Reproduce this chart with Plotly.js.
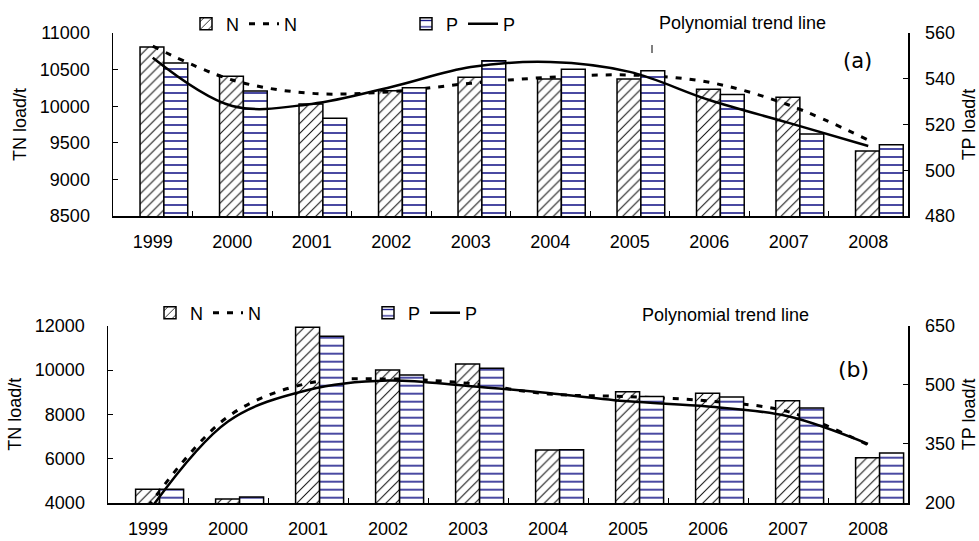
<!DOCTYPE html>
<html>
<head>
<meta charset="utf-8">
<script src="https://cdn.plot.ly/plotly-3.0.1.min.js"></script>
<style>html,body{margin:0;padding:0;background:#fff;}#chart{width:979px;height:541px;}</style>
</head>
<body>
<div id="chart"></div>
<script>
// ---- data ----
const years = ['1999','2000','2001','2002','2003','2004','2005','2006','2007','2008'];
// panel (a)
const tnA = [10810, 10410, 10030, 10210, 10395, 10372, 10372, 10231, 10122, 9388];
const tpA = [546.9, 534.6, 522.7, 536.1, 547.9, 544.1, 543.5, 533.1, 515.9, 511.2];
const tnTrendA = [10820, 10358, 10176, 10198, 10313, 10395, 10426, 10326, 10016, 9538];
const tpTrendA = [549.2, 528.1, 529.0, 536.4, 545.1, 547.3, 543.0, 530.7, 520.7, 510.6];
// panel (b)
const tnB = [4622, 4184, 11928, 10002, 10273, 6394, 9023, 8951, 8617, 6047];
const tpB = [235, 215, 623, 525, 542, 335, 470, 469, 441, 327];
const tnTrendB = [3837, 7896, 9402, 9596, 9402, 8920, 8798, 8604, 8121, 6620];
const tpTrendB = [176, 407, 487, 511, 497, 479, 458, 445, 420, 350];

// ---- layout helpers (pixel -> paper) ----
const W = 979, H = 541, ML = 100, MR = 71, MT = 20, MB = 38;
const PW = W - ML - MR, PH = H - MT - MB;
const px = x => (x - ML) / PW;
const py = y => (H - MB - y) / PH;

const FONT = 'Liberation Sans, Arial, sans-serif';
const nPattern = {shape: '/', fgcolor: '#111', bgcolor: 'white', size: 7, solidity: 0.15};
const pPattern = {shape: '-', fgcolor: '#1c1c8a', bgcolor: 'white', size: 8, solidity: 0.2};
const barLine = {color: 'black', width: 1.5};

function bar(y, yaxis, xaxis, name, offset, pattern, legend) {
  return {type: 'bar', x: years, y: y, xaxis: xaxis, yaxis: yaxis, name: name,
    offset: offset, width: 0.3, legend: legend, hoverinfo: 'skip',
    marker: {color: 'white', line: barLine, pattern: pattern}};
}
function trend(y, yaxis, xaxis, name, dashed, legend) {
  return {type: 'scatter', mode: 'lines', x: years, y: y, xaxis: xaxis, yaxis: yaxis,
    name: name, legend: legend, hoverinfo: 'skip',
    line: dashed ? {color: 'black', width: 3, dash: '6px,8px', shape: 'spline'}
                 : {color: 'black', width: 2.5, shape: 'spline'}};
}

const data = [
  bar(tnA, 'y', 'x', 'N', -0.16, nPattern, 'legend'),
  bar(tpA, 'y2', 'x', 'P', 0.14, pPattern, 'legend2'),
  bar(tnB, 'y3', 'x2', 'N', -0.155, nPattern, 'legend3'),
  bar(tpB, 'y4', 'x2', 'P', 0.145, pPattern, 'legend4'),
  trend(tnTrendA, 'y', 'x', 'N', true, 'legend'),
  trend(tpTrendA, 'y2', 'x', 'P', false, 'legend2'),
  trend(tnTrendB, 'y3', 'x2', 'N', true, 'legend3'),
  trend(tpTrendB, 'y4', 'x2', 'P', false, 'legend4')
];

const tickFont = {family: FONT, size: 18, color: 'black'};
const xCommon = {type: 'category', tickson: 'boundaries', ticks: 'inside', ticklen: 5,
  tickcolor: 'black', showline: true, linecolor: 'black', linewidth: 1.5, showgrid: false,
  tickfont: tickFont, ticklabelstandoff: 9, fixedrange: true};
const yCommon = {ticks: 'inside', ticklen: 5, tickcolor: 'black', showline: true,
  linecolor: 'black', linewidth: 1.5, showgrid: false, zeroline: false,
  tickfont: tickFont, tickformat: 'd', fixedrange: true};
const titleFont = {family: FONT, size: 18, color: 'black'};

function leg(x, y) {
  return {orientation: 'h', x: px(x), y: py(y), xanchor: 'left', yanchor: 'middle',
    font: {family: FONT, size: 18, color: 'black'}, bgcolor: 'rgba(0,0,0,0)',
    itemwidth: 30, tracegroupgap: 0, traceorder: 'normal'};
}
function note(text, x, y, font) {
  return {text: text, xref: 'paper', yref: 'paper', x: px(x), y: py(y),
    xanchor: 'center', yanchor: 'middle', showarrow: false, font: font};
}

const layout = {
  width: W, height: H,
  margin: {l: ML, r: MR, t: MT, b: MB, autoexpand: false},
  paper_bgcolor: 'white', plot_bgcolor: 'rgba(0,0,0,0)',
  font: {family: FONT, color: 'black'},
  barmode: 'overlay',
  showlegend: true,
  xaxis: Object.assign({}, xCommon, {domain: [px(113), 1], anchor: 'y'}),
  yaxis: Object.assign({}, yCommon, {domain: [py(216), py(33)], anchor: 'x',
    range: [8500, 11000], tick0: 8500, dtick: 500, ticklabelstandoff: 18,
    title: {text: 'TN load/t', font: titleFont, standoff: 8}}),
  yaxis2: Object.assign({}, yCommon, {overlaying: 'y', side: 'right', anchor: 'x',
    range: [480, 560], tick0: 480, dtick: 20, ticklabelstandoff: 12,
    title: {text: 'TP load/t', font: titleFont, standoff: 8}}),
  xaxis2: Object.assign({}, xCommon, {domain: [px(108), 1], anchor: 'y3'}),
  yaxis3: Object.assign({}, yCommon, {domain: [0, py(325.7)], anchor: 'x2',
    range: [4000, 12000], tick0: 4000, dtick: 2000, ticklabelstandoff: 18,
    title: {text: 'TN load/t', font: titleFont, standoff: 8}}),
  yaxis4: Object.assign({}, yCommon, {overlaying: 'y3', side: 'right', anchor: 'x2',
    range: [200, 650], tick0: 200, dtick: 150, ticklabelstandoff: 12,
    title: {text: 'TP load/t', font: titleFont, standoff: 8}}),
  legend: leg(186, 24),
  legend2: leg(406, 24),
  legend3: leg(150, 313),
  legend4: leg(368, 313),
  annotations: [
    note('Polynomial trend line', 742, 23, {family: FONT, size: 18, color: 'black'}),
    note('Polynomial trend line', 725, 315, {family: FONT, size: 18, color: 'black'}),
    note('(a)', 857, 61, {family: 'DejaVu Sans, sans-serif', size: 21, color: 'black'}),
    note('(b)', 853, 369, {family: 'DejaVu Sans, sans-serif', size: 22, color: 'black'})
  ],
  shapes: [
    {type: 'line', xref: 'paper', yref: 'paper', x0: px(652), x1: px(652), y0: py(45), y1: py(53),
      line: {color: 'black', width: 1}}
  ]
};

Plotly.newPlot('chart', data, layout, {displayModeBar: false, staticPlot: true});
</script>
</body>
</html>
